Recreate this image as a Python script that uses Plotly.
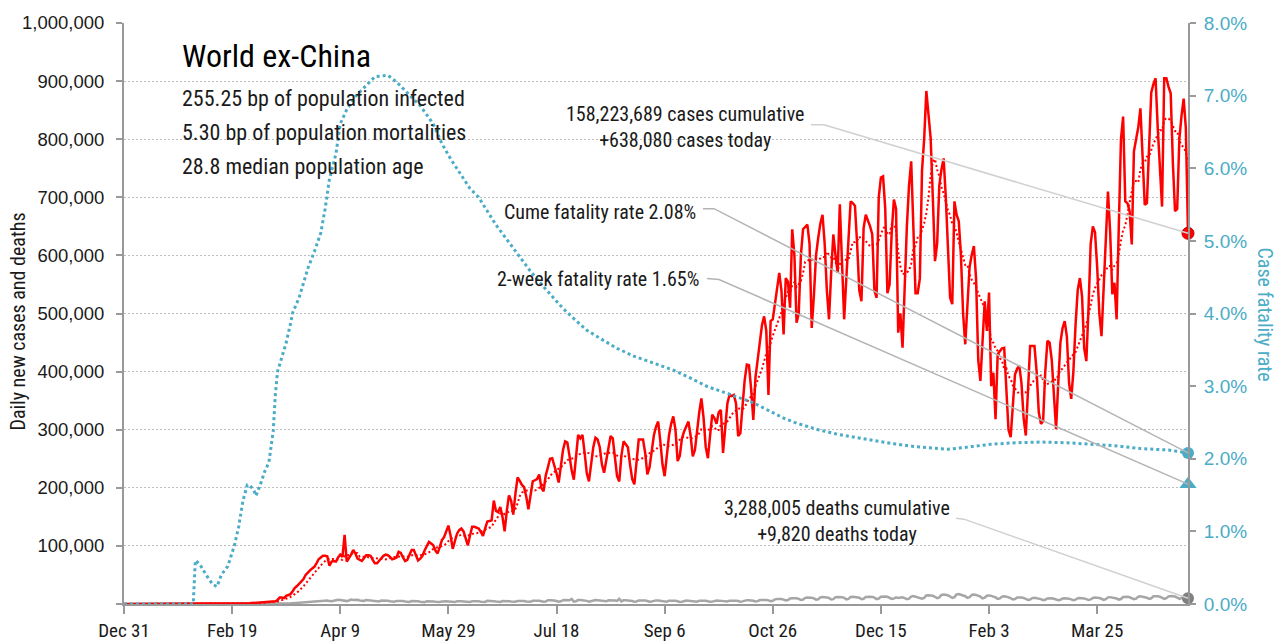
import pandas as pd
import plotly.graph_objects as go

START = "2019-12-31"

# Daily new cases, world ex-China (thousands), one row per week starting Dec 31, 2019
daily_cases_k = [
    0, 0, 0, 0, 0, 0, 0,
    0, 0, 0, 0, 0, 0, 0,
    0, 0, 0, 0, 0, 0, 0,
    0, 0, 0, 0, 0, 0, 0,
    0, 0, 0, 0, 0, 0, 0,
    0.1, 0.1, 0.1, 0.1, 0.1, 0.1, 0.1,
    0.1, 0.1, 0.1, 0.1, 0.1, 0.1, 0.2,
    0.2, 0.3, 0.3, 0.5, 0.4, 0.6, 0.8,
    0.9, 1.0, 1.2, 1.6, 1.8, 1.9, 2.1,
    2.2, 2.4, 2.6, 3.3, 4.0, 4.0, 4.3,
    4.6, 7, 11, 11, 10, 14, 15,
    17, 22, 28, 31, 35, 38, 43,
    50, 55, 58, 61, 64, 70, 77,
    80, 83, 83, 82, 66, 73, 74,
    73, 80, 85, 81, 119, 73, 78,
    85, 93, 87, 78, 76, 74, 79,
    84, 84, 83, 76, 70, 70, 75,
    78, 83, 85, 84, 81, 77, 78,
    80, 90, 88, 80, 74, 76, 85,
    93, 93, 85, 75, 78, 83, 92,
    100, 107, 104, 101, 92, 87, 98,
    110, 115, 125, 135, 118, 95, 108,
    121, 127, 130, 125, 112, 101, 118,
    133, 133, 131, 130, 124, 117, 130,
    142, 143, 144, 178, 160, 158, 167,
    150, 125, 160, 187, 178, 154, 190,
    218, 212, 205, 201, 185, 163, 190,
    211, 213, 215, 223, 200, 194, 221,
    235, 250, 251, 240, 225, 209, 235,
    265, 280, 278, 255, 230, 214, 255,
    291, 285, 291, 260, 225, 211, 240,
    270, 286, 283, 270, 240, 226, 245,
    270, 289, 285, 250, 220, 211, 255,
    280, 275, 270, 240, 215, 206, 250,
    283, 283, 283, 260, 223, 235, 265,
    290, 305, 314, 280, 240, 220, 255,
    290, 310, 323, 300, 246, 255, 285,
    297, 305, 314, 290, 254, 265, 300,
    330, 354, 320, 270, 251, 290, 326,
    320, 310, 330, 334, 260, 300, 345,
    360, 358, 360, 345, 289, 294, 340,
    385, 412, 411, 370, 317, 390, 420,
    446, 480, 495, 470, 360, 487, 490,
    520, 550, 570, 540, 464, 561, 555,
    510, 645, 600, 484, 500, 600, 645,
    650, 653, 620, 475, 530, 600, 630,
    655, 670, 620, 540, 490, 570, 636,
    600, 570, 688, 600, 490, 560, 640,
    693, 690, 685, 620, 540, 521, 647,
    670, 660, 650, 636, 540, 527, 700,
    734, 736, 680, 535, 550, 640, 696,
    680, 467, 500, 441, 560, 650, 720,
    762, 650, 535, 535, 560, 745, 800,
    883, 840, 802, 700, 590, 620, 720,
    748, 767, 700, 600, 527, 516, 693,
    670, 659, 600, 500, 447, 520, 580,
    601, 616, 560, 420, 384, 464, 521,
    470, 536, 375, 398, 318, 430, 435,
    440, 441, 380, 300, 287, 350, 395,
    405, 410, 380, 320, 290, 380, 444,
    444, 444, 400, 330, 310, 315, 400,
    453, 450, 420, 360, 301, 380, 450,
    475, 487, 460, 380, 353, 400, 480,
    540, 561, 530, 440, 418, 510, 620,
    650, 640, 580, 500, 461, 540, 640,
    710, 640, 533, 553, 490, 650, 800,
    839, 693, 690, 676, 619, 779, 800,
    820, 853, 760, 687, 690, 780, 880,
    895, 905, 820, 740, 684, 905, 905,
    890, 879, 760, 676, 680, 800, 840,
    870, 819, 638.08,
]

# Daily new deaths, world ex-China (thousands)
daily_deaths_k = [
    0, 0, 0, 0, 0, 0, 0,
    0, 0, 0, 0, 0, 0, 0,
    0, 0, 0, 0, 0, 0, 0,
    0, 0, 0, 0, 0, 0, 0,
    0, 0, 0, 0, 0, 0, 0,
    0, 0, 0, 0, 0, 0, 0,
    0, 0, 0, 0, 0, 0, 0,
    0, 0, 0, 0, 0.01, 0.01, 0.02,
    0.02, 0.03, 0.03, 0.04, 0.05, 0.05, 0.06,
    0.08, 0.1, 0.12, 0.15, 0.2, 0.25, 0.3,
    0.35, 0.45, 0.5, 0.6, 0.7, 0.8, 0.9,
    1.1, 1.3, 1.6, 1.9, 2.0, 2.2, 2.6,
    3.0, 3.4, 3.7, 4.2, 4.2, 4.0, 4.6,
    5.4, 6.0, 6.2, 6.0, 5.0, 4.6, 5.6,
    7.2, 7.4, 7.0, 6.5, 5.5, 5.0, 6.0,
    7.6, 7.0, 7.4, 7.2, 6.0, 5.2, 5.4,
    7.0, 6.6, 6.4, 6.0, 5.0, 4.0, 4.4,
    6.0, 6.2, 6.0, 5.5, 4.6, 3.8, 3.9,
    5.3, 5.6, 5.2, 5.0, 4.2, 3.4, 3.6,
    5.2, 5.4, 5.0, 4.8, 4.0, 3.0, 3.2,
    4.8, 5.0, 4.8, 4.5, 3.9, 3.2, 3.4,
    4.4, 4.9, 4.6, 4.4, 3.7, 2.8, 3.3,
    4.7, 5.1, 4.7, 4.5, 3.9, 3.1, 3.5,
    4.8, 5.0, 5.4, 4.6, 4.0, 3.2, 3.6,
    5.4, 5.5, 5.0, 4.6, 4.2, 3.3, 3.6,
    5.1, 5.4, 5.3, 4.8, 4.2, 3.4, 3.8,
    5.2, 5.6, 5.3, 5.2, 4.4, 3.6, 4.0,
    5.6, 6.2, 5.8, 5.6, 4.6, 3.8, 4.2,
    6.6, 6.6, 6.8, 6.0, 5.2, 4.0, 4.6,
    6.6, 6.8, 6.6, 6.4, 8.8, 4.2, 4.8,
    6.8, 6.9, 6.6, 6.2, 5.4, 4.1, 4.8,
    6.6, 6.8, 6.6, 6.2, 5.5, 4.2, 4.6,
    6.4, 6.6, 6.4, 6.1, 5.3, 8.8, 4.5,
    6.3, 6.5, 6.3, 6.0, 5.2, 3.9, 4.3,
    6.1, 6.4, 6.1, 5.9, 5.1, 3.8, 4.3,
    5.8, 6.2, 5.9, 5.6, 4.9, 3.7, 4.1,
    5.7, 6.0, 5.8, 5.5, 4.8, 3.6, 4.0,
    5.6, 5.9, 5.7, 5.4, 4.7, 3.6, 4.0,
    5.7, 6.0, 5.8, 5.4, 4.8, 3.7, 4.1,
    5.6, 6.0, 5.8, 5.5, 4.9, 3.8, 4.3,
    5.8, 6.2, 6.0, 5.7, 5.1, 4.0, 4.5,
    6.2, 6.6, 6.4, 6.2, 5.6, 4.4, 4.9,
    6.8, 7.2, 7.4, 7.0, 6.2, 5.0, 5.6,
    8.0, 8.6, 8.8, 8.6, 7.6, 6.0, 6.8,
    9.6, 10.0, 10.2, 9.8, 8.8, 6.8, 7.6,
    10.6, 11.0, 11.2, 10.8, 9.6, 7.4, 8.2,
    11.4, 12.0, 12.0, 11.0, 10.4, 7.8, 8.4,
    11.8, 12.2, 12.2, 11.8, 10.6, 8.0, 8.8,
    12.0, 12.6, 12.4, 12.0, 10.8, 8.2, 9.0,
    12.2, 13.0, 12.6, 12.2, 11.0, 8.4, 9.4,
    12.4, 13.2, 13.0, 12.4, 11.0, 8.8, 9.4,
    11.6, 10.2, 10.4, 11.4, 10.0, 8.4, 9.2,
    12.8, 13.6, 12.4, 10.2, 9.6, 9.0, 10.6,
    14.6, 15.2, 15.0, 14.2, 12.4, 10.0, 11.4,
    15.6, 16.4, 15.8, 15.0, 13.0, 10.4, 11.8,
    16.6, 17.0, 16.2, 15.4, 13.4, 10.6, 11.6,
    15.6, 16.4, 15.6, 14.6, 12.6, 9.6, 10.8,
    14.2, 14.8, 14.0, 13.2, 11.4, 8.8, 9.6,
    12.8, 13.4, 12.6, 11.6, 10.0, 7.8, 8.6,
    11.2, 11.8, 11.2, 10.4, 9.0, 7.0, 7.8,
    10.2, 10.8, 10.4, 9.6, 8.4, 6.6, 7.4,
    9.6, 10.2, 9.8, 9.0, 8.0, 6.4, 7.2,
    9.4, 10.0, 9.8, 9.2, 8.0, 6.4, 7.4,
    9.8, 10.4, 10.2, 9.6, 8.4, 6.8, 7.8,
    10.4, 11.0, 10.8, 10.2, 9.0, 7.2, 8.2,
    11.4, 11.8, 11.4, 10.8, 9.4, 7.6, 8.6,
    12.0, 12.6, 12.4, 11.6, 10.2, 8.2, 9.2,
    12.6, 13.2, 12.8, 12.2, 10.8, 8.6, 9.8,
    13.2, 13.6, 13.4, 12.6, 11.0, 8.8, 10.0,
    13.2, 13.8, 13.4, 12.8, 11.2, 8.8, 10.2,
    13.0, 13.2, 9.82,
]

# Cumulative case fatality rate (%), sampled at day offsets from START
cfr_days = [0, 32, 33, 35, 38, 41, 43, 45, 48, 51, 53, 55, 57, 58, 60, 61, 63, 65,
            67, 69, 70, 71, 73, 75, 77, 78, 81, 83, 85, 88, 91, 93, 95, 98, 100,
            103, 107, 112, 116, 122, 126, 130, 137, 143, 147, 151, 156, 160, 164,
            172, 180, 188, 194, 199, 203, 208, 214, 220, 228, 236, 245, 254, 262,
            270, 279, 285, 291, 299, 305, 311, 321, 331, 344, 355, 365, 375, 381,
            390, 401, 412, 424, 436, 447, 458, 470, 483, 492]
cfr_pct = [0.00, 0.00, 0.60, 0.55, 0.40, 0.27, 0.24, 0.40, 0.52, 0.80, 1.06, 1.42,
           1.64, 1.64, 1.57, 1.49, 1.64, 1.82, 1.95, 2.38, 2.89, 3.20, 3.40, 3.60,
           3.86, 4.01, 4.22, 4.42, 4.62, 4.85, 5.11, 5.44, 5.85, 6.20, 6.61, 6.81,
           6.99, 7.14, 7.26, 7.28, 7.19, 7.07, 6.86, 6.61, 6.34, 6.13, 5.91, 5.72,
           5.60, 5.22, 4.90, 4.58, 4.37, 4.21, 4.07, 3.93, 3.77, 3.66, 3.52, 3.41,
           3.31, 3.22, 3.11, 2.99, 2.90, 2.84, 2.77, 2.65, 2.56, 2.49, 2.40, 2.33,
           2.26, 2.21, 2.17, 2.15, 2.13, 2.16, 2.20, 2.22, 2.23, 2.22, 2.20, 2.18,
           2.14, 2.12, 2.08]

two_week_cfr_pct = 1.65
cases_cumulative = 158223689
deaths_cumulative = 3288005
bp_infected = 255.25
bp_mortalities = 5.30
median_age = 28.8

tick_days = [0, 50, 100, 150, 200, 250, 300, 350, 400, 450]
tick_labels = ["Dec 31", "Feb 19", "Apr 9", "May 29", "Jul 18", "Sep 6",
               "Oct 26", "Dec 15", "Feb 3", "Mar 25"]
y_ticks = list(range(0, 1000001, 100000))
y2_ticks = [i / 100 for i in range(0, 9)]

# ---------------------------------------------------------------------------
start = pd.Timestamp(START)
cases = pd.Series(daily_cases_k) * 1000
deaths = pd.Series(daily_deaths_k) * 1000
case_dates = pd.date_range(start, periods=len(cases), freq="D")
death_dates = pd.date_range(start, periods=len(deaths), freq="D")
cases_avg = cases.rolling(7, min_periods=1).mean()
cfr_dates = [start + pd.Timedelta(days=d) for d in cfr_days]
cfr = [v / 100 for v in cfr_pct]
last_date = case_dates[-1]

COND = ("'Noto Sans Condensed', 'Roboto Condensed', 'Liberation Sans Narrow', "
        "'Arial Narrow', Roboto, sans-serif")
REG = "'Liberation Sans', Arial, sans-serif"
TEAL = "#4bacc6"
RED = "#ff0000"
GREY = "#a6a6a6"
AXIS = "#999999"

fig = go.Figure()
fig.add_trace(go.Scatter(x=death_dates, y=deaths, mode="lines",
                         line=dict(color=GREY, width=2.5), hoverinfo="skip"))
fig.add_trace(go.Scatter(x=cfr_dates, y=cfr, yaxis="y2", mode="lines",
                         line=dict(color=TEAL, width=3, dash="3px,3px"), hoverinfo="skip"))
fig.add_trace(go.Scatter(x=case_dates, y=cases_avg, mode="lines",
                         line=dict(color=RED, width=2, dash="2px,2.5px"), hoverinfo="skip"))
fig.add_trace(go.Scatter(x=case_dates, y=cases, mode="lines",
                         line=dict(color=RED, width=2.5), hoverinfo="skip"))

# end markers
fig.add_trace(go.Scatter(x=[death_dates[-1]], y=[deaths.iloc[-1]], mode="markers",
                         marker=dict(color="#808080", size=12), cliponaxis=False))
fig.add_trace(go.Scatter(x=[cfr_dates[-1]], y=[cfr[-1]], yaxis="y2", mode="markers",
                         marker=dict(color=TEAL, size=12), cliponaxis=False))
fig.add_trace(go.Scatter(x=[last_date], y=[two_week_cfr_pct / 100], yaxis="y2", mode="markers",
                         marker=dict(color=TEAL, size=15, symbol="triangle-up"), cliponaxis=False))
fig.add_trace(go.Scatter(x=[last_date], y=[cases.iloc[-1]], mode="markers",
                         marker=dict(color=RED, size=12, line=dict(color="#c00000", width=1)),
                         cliponaxis=False))

# Figure is laid out slightly taller than the photographed frame, which is
# squeezed vertically to 642 px; plot area ends up at x 124..1188, y 21..603.
W, H = 1284, 654
L, R, T, B = 124, 96, 21, 40


def px(x):
    return (x - 124) / 1064


def py(y):
    return (603 - y) / 582


txt = dict(family=COND, size=20, color="#1a1a1a")
big = dict(family=COND, size=22, color="#1a1a1a")
annotations = [
    dict(x=px(180), y=py(54), text="World ex-China", xanchor="left", yanchor="middle",
         font=dict(family=COND, size=32, color="#000000")),
    dict(x=px(180), y=py(97), text=f"{bp_infected:.2f} bp of population infected",
         xanchor="left", yanchor="middle", font=big),
    dict(x=px(180), y=py(131), text=f"{bp_mortalities:.2f} bp of population mortalities",
         xanchor="left", yanchor="middle", font=big),
    dict(x=px(180), y=py(165), text=f"{median_age:.1f} median population age",
         xanchor="left", yanchor="middle", font=big),
    dict(x=px(806), y=py(125.5),
         text=f"{cases_cumulative:,} cases cumulative<br>+{int(round(cases.iloc[-1])):,} cases today",
         xanchor="right", yanchor="middle", align="center", font=txt),
    dict(x=px(698), y=py(210), text=f"Cume fatality rate {cfr_pct[-1]:.2f}%",
         xanchor="right", yanchor="middle", font=txt),
    dict(x=px(701), y=py(277), text=f"2-week fatality rate {two_week_cfr_pct:.2f}%",
         xanchor="right", yanchor="middle", font=txt),
    dict(x=px(952), y=py(520),
         text=f"{deaths_cumulative:,} deaths cumulative<br>+{int(round(deaths.iloc[-1])):,} deaths today",
         xanchor="right", yanchor="middle", align="center", font=txt),
    dict(x=px(18), y=py(320), text="Daily new cases and deaths", textangle=-90,
         xanchor="center", yanchor="middle", font=dict(family=COND, size=20, color="#1a1a1a")),
    dict(x=px(1265), y=py(313), text="Case fatality rate", textangle=90,
         xanchor="center", yanchor="middle", font=dict(family=COND, size=20, color=TEAL)),
]
for a in annotations:
    a.update(xref="paper", yref="paper", showarrow=False)


def leader(p0, p1, end_y, color):
    return dict(type="path", xref="paper", yref="paper",
                path=f"M {px(p0[0])},{py(p0[1])} L {px(p1[0])},{py(p1[1])} L 1,{end_y}",
                line=dict(color=color, width=1.5), layer="above")


shapes = [
    leader((811, 123), (824, 123), cases.iloc[-1] / 1e6, "#d0d0d0"),
    leader((703, 207), (714, 207), cfr[-1] / 0.08, "#b4b4b4"),
    leader((707, 277), (719, 278), two_week_cfr_pct / 100 / 0.08, "#b4b4b4"),
    leader((956, 517), (964, 518), deaths.iloc[-1] / 1e6, "#d0d0d0"),
]

fig.update_layout(
    width=W, height=H, autosize=False, margin=dict(l=L, r=R, t=T, b=B, pad=0),
    paper_bgcolor="white", plot_bgcolor="white", showlegend=False,
    annotations=annotations, shapes=shapes,
    xaxis=dict(type="date", range=[case_dates[0], last_date],
               tickvals=[start + pd.Timedelta(days=d) for d in tick_days], ticktext=tick_labels,
               ticks="outside", ticklen=8, tickwidth=1.5, tickcolor=AXIS,
               showline=True, linecolor=AXIS, linewidth=2, showgrid=False, zeroline=False,
               tickfont=dict(family=COND, size=19, color="#1a1a1a")),
    yaxis=dict(range=[0, 1000000], tickvals=y_ticks,
               ticktext=[""] + [f"{v:,}" for v in y_ticks[1:]],
               ticks="outside", ticklen=6, tickwidth=1.5, tickcolor=AXIS,
               showline=True, linecolor=AXIS, linewidth=2, ticklabelstandoff=8,
               showgrid=True, gridcolor="#bdbdbd", griddash="2px,2px", gridwidth=1,
               zeroline=False, tickfont=dict(family=REG, size=18.5, color="#1a1a1a")),
    yaxis2=dict(range=[0, 0.08], tickvals=y2_ticks, tickformat=".1%", overlaying="y",
                side="right", ticks="outside", ticklen=6, tickwidth=1.5, tickcolor=AXIS,
                showline=True, linecolor=AXIS, linewidth=2, showgrid=False, zeroline=False,
                ticklabelstandoff=4, tickfont=dict(family=REG, size=19, color=TEAL)),
)

POST = ("document.body.style.margin='0px';"
        "document.documentElement.style.overflow='hidden';"
        "var gd=document.getElementById('{plot_id}');"
        "gd.style.position='absolute';gd.style.left='0px';gd.style.top='0px';")

fig.write_html("out.html", config={"displayModeBar": False, "responsive": False},
               post_script=POST)
